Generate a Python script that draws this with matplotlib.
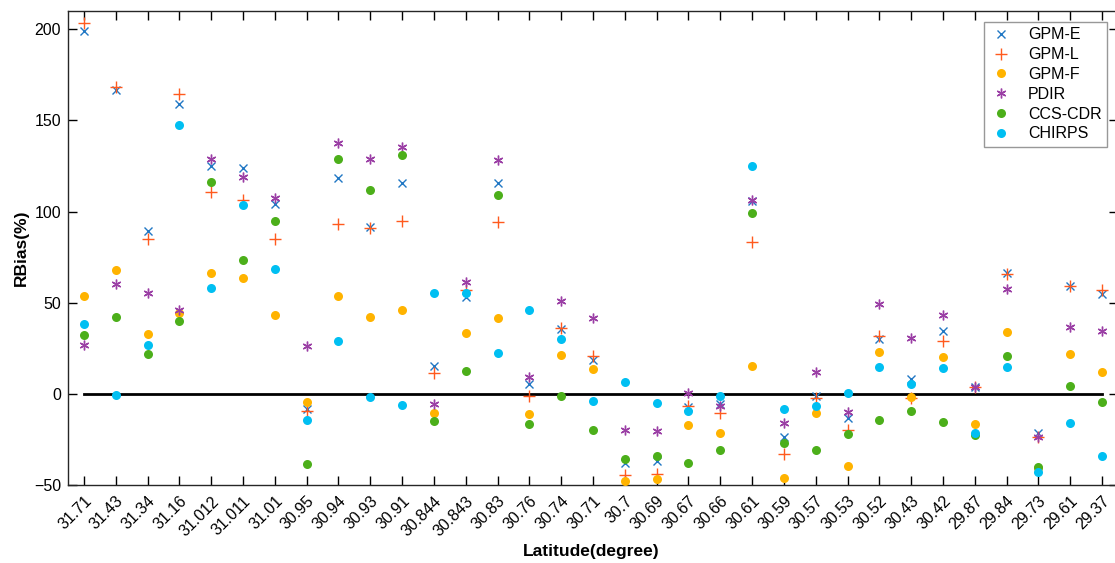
import matplotlib.pyplot as plt

plt.rcParams["font.family"] = ["Liberation Sans", "DejaVu Sans"]

# station latitudes (x categories)
lats = ["31.71", "31.43", "31.34", "31.16", "31.012", "31.011", "31.01", "30.95",
        "30.94", "30.93", "30.91", "30.844", "30.843", "30.83", "30.76", "30.74",
        "30.71", "30.7", "30.69", "30.67", "30.66", "30.61", "30.59", "30.57",
        "30.53", "30.52", "30.43", "30.42", "29.87", "29.84", "29.73", "29.61", "29.37"]

# RBias (%) per product
gpm_e = [199.2, 166.8, 89.3, 159.0, 125.0, 123.8, 104.2, -8.2, 118.3, 91.5, 115.7,
         15.2, 53.3, 115.7, 5.7, 35.7, 18.8, -37.9, -36.6, -7.2, -5.3, 106.0,
         -23.6, -0.9, -13.2, 30.0, 8.4, 34.6, 3.8, 66.5, -21.1, 59.3, 55.1]
gpm_l = [203.3, 168.5, 84.8, 164.3, 111.0, 106.4, 85.2, -9.5, 93.0, 91.2, 95.0,
         11.5, 57.0, 94.5, -0.8, 36.3, 21.0, -44.3, -44.0, -6.4, -10.6, 83.3,
         -32.6, -2.4, -19.5, 31.7, -2.0, 29.3, 3.8, 65.7, -23.6, 59.3, 57.3]
gpm_f = [53.5, 67.9, 33.0, 44.5, 66.5, 63.5, 43.2, -4.4, 53.8, 42.3, 45.9,
         -10.4, 33.5, 41.5, -10.8, 21.2, 13.9, -47.8, -46.7, -16.9, -21.6, 15.2,
         -45.8, -10.3, -39.2, 23.2, -1.8, 20.1, -16.3, 34.2, -40.5, 22.0, 12.1]
pdir = [27.1, 60.4, 55.5, 46.3, 128.6, 119.0, 107.3, 26.5, 137.9, 128.9, 135.2,
        -5.7, 61.3, 128.4, 9.5, 51.3, 41.8, -19.8, -20.0, 0.4, -6.4, 106.6,
        -16.1, 11.9, -9.7, 49.4, 30.6, 43.4, 3.8, 57.7, -23.3, 37.0, 34.8]
ccs_cdr = [32.2, 42.3, 21.8, 40.3, 116.3, 73.6, 94.7, -38.5, 128.6, 111.7, 131.3,
           -14.7, 12.4, 109.3, -16.3, -1.1, -19.8, -35.4, -33.9, -37.8, -30.6, 99.5,
           -26.8, -30.4, -22.0, -14.1, -9.2, -15.2, -22.7, 20.7, -40.1, 4.6, -4.4]
chirps = [38.5, -0.5, 26.9, 147.3, 58.4, 103.5, 68.3, -14.3, 28.9, -1.6, -6.0,
          55.3, 55.5, 22.3, 46.2, 30.0, -4.0, 6.4, -5.0, -9.2, -0.9, 125.3,
          -8.1, -6.4, 0.5, 15.0, 5.3, 14.1, -21.1, 14.6, -42.7, -15.8, -33.9]

x = list(range(1, len(lats) + 1))

fig = plt.figure(figsize=(11.15, 5.63), dpi=100)
ax = fig.add_axes([68 / 1115, 1 - 485.3 / 563, 1050 / 1115, (485.3 - 11) / 563])

# zero reference line
ax.plot([1, len(lats)], [0, 0], color="k", lw=2, zorder=1)

ax.plot(x, gpm_e, "x", color="#2178c4", ms=6, mew=1.0, label="GPM-E", zorder=3)
ax.plot(x, gpm_l, "+", color="#ff5a1e", ms=9, mew=1.0, label="GPM-L", zorder=3)
ax.plot(x, gpm_f, "o", color="#ffb300", ms=6.5, mec="none", label="GPM-F", zorder=3)
ax.plot(x, pdir, marker=(6, 2, 0), ls="none", color="#9b3fa5", ms=7, mew=1.0,
        label="PDIR", zorder=3)
ax.plot(x, ccs_cdr, "o", color="#4caf1a", ms=6.5, mec="none", label="CCS-CDR", zorder=3)
ax.plot(x, chirps, "o", color="#00bff2", ms=6.5, mec="none", label="CHIRPS", zorder=3)

ax.set_xlim(0.5, len(lats) + 0.5)
ax.set_ylim(-50, 210)
ax.set_xticks(x)
ax.set_xticklabels(lats, rotation=45, ha="right", rotation_mode="anchor")
ax.set_yticks([-50, 0, 50, 100, 150, 200])
ax.tick_params(direction="in", length=6.5, width=1, labelsize=11.5,
               top=True, right=True)
ax.tick_params(axis="x", pad=6)
ax.tick_params(axis="y", pad=5)

for sp in ax.spines.values():
    sp.set_color("#262626")
    sp.set_linewidth(1)

ax.set_xlabel("Latitude(degree)", fontsize=12.5, fontweight="bold", va="center")
ax.xaxis.set_label_coords(0.4985, -0.1406)
ax.set_ylabel("RBias(%)", fontsize=12.5, fontweight="bold", labelpad=4)

leg = ax.legend(loc="upper right", bbox_to_anchor=(0.9895, 0.977), fontsize=11.5,
                frameon=True, fancybox=False, edgecolor="#7f7f7f",
                handlelength=1.5, handletextpad=0.9, borderpad=0.35,
                labelspacing=0.3, borderaxespad=0)
leg.get_frame().set_linewidth(1)

fig.savefig("out.png", dpi=100)
